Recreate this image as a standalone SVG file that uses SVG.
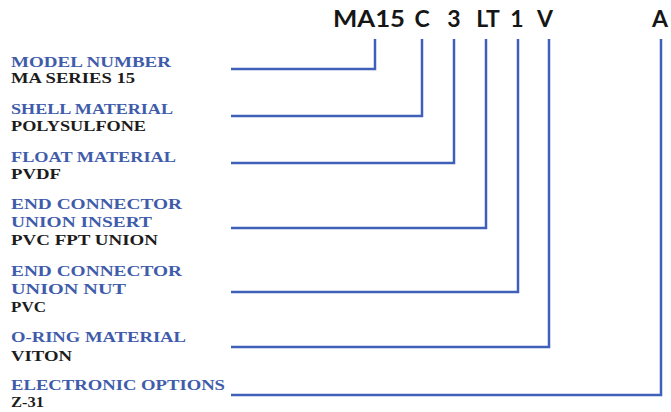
<svg xmlns="http://www.w3.org/2000/svg" width="671" height="412" viewBox="0 0 671 412">
<style>
.bg{fill:#ffffff}
.lbl{font-family:"Liberation Serif","Times New Roman",serif;font-weight:bold;font-size:15.5px;fill:#3f5cab}
.val{font-family:"Liberation Serif","Times New Roman",serif;font-weight:bold;font-size:15.5px;fill:#1c1c1c}
.code{font-family:Lato,"Liberation Sans",Arial,sans-serif;font-weight:bold;font-size:23px;fill:#161616}
.conn{fill:none;stroke:#3f60b8;stroke-width:2.5;stroke-linejoin:miter}
</style>
<rect class="bg" x="0" y="0" width="671" height="412"/>
<g id="code">
<text class="code" x="333" y="27" textLength="72" lengthAdjust="spacingAndGlyphs">MA15</text>
<text class="code" x="422" y="27" text-anchor="middle">C</text>
<text class="code" x="454" y="27" text-anchor="middle">3</text>
<text class="code" x="488" y="27" text-anchor="middle">LT</text>
<text class="code" x="517" y="27" text-anchor="middle">1</text>
<text class="code" x="545" y="27" text-anchor="middle">V</text>
<text class="code" x="660" y="27" text-anchor="middle">A</text>
</g>
<g id="model-number">
<text class="lbl" x="11" y="66.5" textLength="160" lengthAdjust="spacingAndGlyphs">MODEL NUMBER</text>
<text class="val" x="11" y="83" textLength="124" lengthAdjust="spacingAndGlyphs">MA SERIES 15</text>
</g>
<g id="shell-material">
<text class="lbl" x="11" y="114" textLength="162" lengthAdjust="spacingAndGlyphs">SHELL MATERIAL</text>
<text class="val" x="11" y="131" textLength="135" lengthAdjust="spacingAndGlyphs">POLYSULFONE</text>
</g>
<g id="float-material">
<text class="lbl" x="11" y="161.5" textLength="165" lengthAdjust="spacingAndGlyphs">FLOAT MATERIAL</text>
<text class="val" x="11" y="179" textLength="50" lengthAdjust="spacingAndGlyphs">PVDF</text>
</g>
<g id="end-connector-insert">
<text class="lbl" x="11" y="209" textLength="171" lengthAdjust="spacingAndGlyphs">END CONNECTOR</text>
<text class="lbl" x="11" y="226.5" textLength="141" lengthAdjust="spacingAndGlyphs">UNION INSERT</text>
<text class="val" x="11" y="245" textLength="147" lengthAdjust="spacingAndGlyphs">PVC FPT UNION</text>
</g>
<g id="end-connector-nut">
<text class="lbl" x="11" y="275.5" textLength="171" lengthAdjust="spacingAndGlyphs">END CONNECTOR</text>
<text class="lbl" x="11" y="294" textLength="115" lengthAdjust="spacingAndGlyphs">UNION NUT</text>
<text class="val" x="11" y="312" textLength="35" lengthAdjust="spacingAndGlyphs">PVC</text>
</g>
<g id="o-ring-material">
<text class="lbl" x="11" y="341.5" textLength="175" lengthAdjust="spacingAndGlyphs">O-RING MATERIAL</text>
<text class="val" x="11" y="360.5" textLength="61" lengthAdjust="spacingAndGlyphs">VITON</text>
</g>
<g id="electronic-options">
<text class="lbl" x="11" y="390" textLength="214" lengthAdjust="spacingAndGlyphs">ELECTRONIC OPTIONS</text>
<text class="val" x="11" y="406.5" textLength="33" lengthAdjust="spacingAndGlyphs">Z-31</text>
</g>
<g id="connectors">
<polyline class="conn" points="231,69 375,69 375,39"/>
<polyline class="conn" points="231,116 422,116 422,39"/>
<polyline class="conn" points="231,163 454,163 454,39"/>
<polyline class="conn" points="231,228 486,228 486,39"/>
<polyline class="conn" points="231,292 518,292 518,39"/>
<polyline class="conn" points="231,347 549,347 549,39"/>
<polyline class="conn" points="231,395 661,395 661,39"/>
</g>
</svg>
